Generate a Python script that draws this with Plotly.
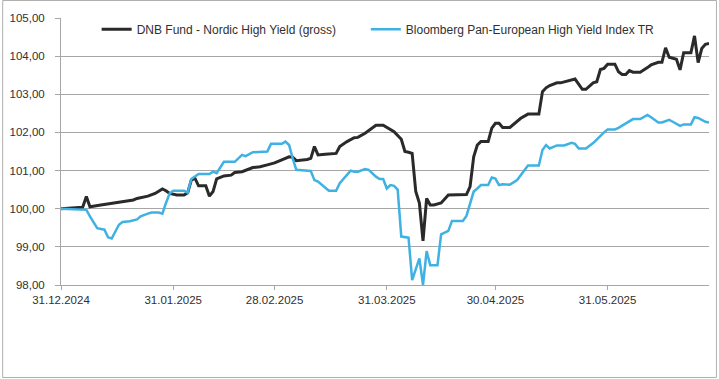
import plotly.graph_objects as go

fund_dates = [
    "2024-12-31", "2025-01-04", "2025-01-06", "2025-01-07", "2025-01-08", "2025-01-11", "2025-01-13",
    "2025-01-15", "2025-01-17", "2025-01-20", "2025-01-21", "2025-01-24", "2025-01-26", "2025-01-28",
    "2025-01-29", "2025-01-30", "2025-02-01", "2025-02-03", "2025-02-04", "2025-02-05", "2025-02-06",
    "2025-02-07", "2025-02-09", "2025-02-10", "2025-02-11", "2025-02-12", "2025-02-14", "2025-02-16",
    "2025-02-17", "2025-02-19", "2025-02-22", "2025-02-24", "2025-02-26", "2025-02-28", "2025-03-02",
    "2025-03-04", "2025-03-05", "2025-03-06", "2025-03-09", "2025-03-10", "2025-03-11", "2025-03-12",
    "2025-03-14", "2025-03-17", "2025-03-18", "2025-03-20", "2025-03-22", "2025-03-23", "2025-03-25",
    "2025-03-27", "2025-03-28", "2025-03-30", "2025-04-01", "2025-04-02", "2025-04-04", "2025-04-05",
    "2025-04-06", "2025-04-07", "2025-04-08", "2025-04-09", "2025-04-10", "2025-04-11", "2025-04-12",
    "2025-04-13", "2025-04-15", "2025-04-17", "2025-04-22", "2025-04-23", "2025-04-24", "2025-04-25",
    "2025-04-26", "2025-04-28", "2025-04-29", "2025-04-30", "2025-05-01", "2025-05-02", "2025-05-04",
    "2025-05-06", "2025-05-07", "2025-05-09", "2025-05-12", "2025-05-13", "2025-05-14", "2025-05-15",
    "2025-05-17", "2025-05-18", "2025-05-20", "2025-05-22", "2025-05-24", "2025-05-25", "2025-05-27",
    "2025-05-28", "2025-05-29", "2025-05-30", "2025-05-31", "2025-06-02", "2025-06-03", "2025-06-04",
    "2025-06-05", "2025-06-06", "2025-06-07", "2025-06-09", "2025-06-11", "2025-06-12", "2025-06-14",
    "2025-06-15", "2025-06-16", "2025-06-17", "2025-06-19", "2025-06-20", "2025-06-21", "2025-06-23",
    "2025-06-24", "2025-06-25", "2025-06-26", "2025-06-27", "2025-06-28",
]
fund_values = [
    100.00, 100.02, 100.04, 100.32, 100.05, 100.10, 100.13,
    100.17, 100.20, 100.23, 100.27, 100.33, 100.40, 100.52,
    100.47, 100.40, 100.36, 100.36, 100.42, 100.75, 100.80,
    100.60, 100.60, 100.33, 100.45, 100.78, 100.86, 100.88,
    100.95, 100.97, 101.08, 101.10, 101.15, 101.20, 101.28,
    101.36, 101.35, 101.26, 101.29, 101.32, 101.63, 101.41,
    101.43, 101.45, 101.63, 101.76, 101.86, 101.87, 101.98,
    102.11, 102.19, 102.19, 102.08, 102.02, 101.82, 101.50,
    101.48, 101.45, 100.45, 100.15, 99.16, 100.27, 100.10,
    100.10, 100.15, 100.36, 100.37, 100.58, 101.36, 101.67,
    101.76, 101.76, 102.11, 102.24, 102.24, 102.13, 102.13,
    102.28, 102.37, 102.48, 102.48, 103.07, 103.17, 103.23,
    103.30, 103.30, 103.36, 103.40, 103.13, 103.13, 103.30,
    103.33, 103.65, 103.68, 103.79, 103.79, 103.59, 103.52,
    103.52, 103.62, 103.58, 103.58, 103.70, 103.77, 103.84,
    103.84, 104.22, 103.97, 103.92, 103.64, 104.09, 104.09,
    104.53, 103.83, 104.20, 104.31, 104.33,
]

index_dates = [
    "2024-12-31", "2025-01-03", "2025-01-07", "2025-01-08", "2025-01-10", "2025-01-12", "2025-01-13",
    "2025-01-14", "2025-01-15", "2025-01-16", "2025-01-17", "2025-01-19", "2025-01-21", "2025-01-22",
    "2025-01-24", "2025-01-25", "2025-01-27", "2025-01-28", "2025-01-29", "2025-01-30", "2025-01-31",
    "2025-02-03", "2025-02-04", "2025-02-05", "2025-02-07", "2025-02-10", "2025-02-11", "2025-02-12",
    "2025-02-14", "2025-02-17", "2025-02-19", "2025-02-20", "2025-02-22", "2025-02-26", "2025-02-27",
    "2025-03-02", "2025-03-03", "2025-03-04", "2025-03-05", "2025-03-06", "2025-03-10", "2025-03-11",
    "2025-03-12", "2025-03-15", "2025-03-17", "2025-03-18", "2025-03-21", "2025-03-22", "2025-03-23",
    "2025-03-25", "2025-03-26", "2025-03-28", "2025-03-29", "2025-03-30", "2025-03-31", "2025-04-01",
    "2025-04-02", "2025-04-03", "2025-04-04", "2025-04-05", "2025-04-06", "2025-04-07", "2025-04-09",
    "2025-04-10", "2025-04-11", "2025-04-12", "2025-04-14", "2025-04-15", "2025-04-17", "2025-04-18",
    "2025-04-21", "2025-04-22", "2025-04-24", "2025-04-25", "2025-04-26", "2025-04-28", "2025-04-29",
    "2025-04-30", "2025-05-01", "2025-05-02", "2025-05-04", "2025-05-06", "2025-05-07", "2025-05-09",
    "2025-05-12", "2025-05-13", "2025-05-14", "2025-05-15", "2025-05-17", "2025-05-19", "2025-05-21",
    "2025-05-22", "2025-05-23", "2025-05-25", "2025-05-27", "2025-05-28", "2025-05-30", "2025-05-31",
    "2025-06-02", "2025-06-03", "2025-06-05", "2025-06-07", "2025-06-09", "2025-06-10", "2025-06-11",
    "2025-06-12", "2025-06-14", "2025-06-15", "2025-06-17", "2025-06-18", "2025-06-20", "2025-06-21",
    "2025-06-23", "2025-06-24", "2025-06-25", "2025-06-27", "2025-06-28",
]
index_values = [
    100.00, 99.98, 99.97, 99.80, 99.49, 99.45, 99.25,
    99.22, 99.40, 99.58, 99.65, 99.67, 99.72, 99.80,
    99.87, 99.90, 99.90, 99.87, 100.15, 100.40, 100.47,
    100.47, 100.42, 100.78, 100.91, 100.91, 100.97, 100.93,
    101.23, 101.23, 101.41, 101.38, 101.48, 101.50, 101.70,
    101.70, 101.76, 101.67, 101.32, 101.02, 100.99, 100.75,
    100.71, 100.47, 100.47, 100.67, 101.00, 100.97, 100.97,
    101.04, 101.02, 100.84, 100.78, 100.78, 100.53, 100.62,
    100.60, 100.50, 99.27, 99.25, 99.24, 98.13, 98.70,
    98.00, 98.89, 98.52, 98.52, 99.33, 99.42, 99.68,
    99.68, 99.81, 100.45, 100.53, 100.62, 100.62, 100.82,
    100.79, 100.62, 100.64, 100.63, 100.75, 100.88, 101.13,
    101.13, 101.54, 101.67, 101.58, 101.66, 101.66, 101.73,
    101.70, 101.58, 101.58, 101.72, 101.82, 102.00, 102.08,
    102.08, 102.12, 102.24, 102.35, 102.35, 102.41, 102.46,
    102.40, 102.26, 102.26, 102.33, 102.28, 102.17, 102.21,
    102.21, 102.40, 102.38, 102.28, 102.26,
]

fund_name = "DNB Fund - Nordic High Yield (gross)"
index_name = "Bloomberg Pan-European High Yield Index TR"

tick_dates = ["2024-12-31", "2025-01-31", "2025-02-28", "2025-03-31", "2025-04-30", "2025-05-31"]
tick_labels = ["31.12.2024", "31.01.2025", "28.02.2025", "31.03.2025", "30.04.2025", "31.05.2025"]

FONT = "Liberation Sans, Arial, sans-serif"
GRID = "#a6a6a6"
TXT = "#303030"

fig = go.Figure()
fig.add_trace(go.Scatter(x=fund_dates, y=fund_values, mode="lines", name=fund_name,
                         line=dict(color="#2a2a2a", width=3), legend="legend"))
fig.add_trace(go.Scatter(x=index_dates, y=index_values, mode="lines", name=index_name,
                         line=dict(color="#3fb1e3", width=2.5), legend="legend2"))

legend_style = dict(orientation="h", y=1.012, xanchor="left", yanchor="top",
                    bgcolor="rgba(0,0,0,0)", font=dict(size=12, color=TXT), itemwidth=30)

fig.update_layout(
    width=719, height=379,
    margin=dict(l=59, r=10, t=18, b=94),
    paper_bgcolor="white", plot_bgcolor="white",
    separators=",.",
    font=dict(family=FONT, size=11.5, color=TXT),
    showlegend=True,
    legend=dict(x=0.055, **legend_style),
    legend2=dict(x=0.4704, **legend_style),
    xaxis=dict(type="date", range=["2024-12-31", "2025-06-28"],
               tickvals=tick_dates, ticktext=tick_labels,
               showgrid=False, showline=True, linecolor=GRID, linewidth=1,
               ticks="outside", ticklen=4, tickcolor=GRID,
               tickfont=dict(size=11.5, color=TXT), zeroline=False),
    yaxis=dict(range=[98, 105], dtick=1, tick0=98, tickformat=".2f",
               showgrid=True, gridcolor=GRID, gridwidth=1,
               showline=True, linecolor=GRID, linewidth=1,
               ticks="outside", ticklen=5, tickcolor=GRID, ticklabelstandoff=8,
               tickfont=dict(size=11.5, color=TXT), zeroline=False),
    shapes=[dict(type="rect", xref="paper", yref="paper",
                 x0=-0.0900, x1=1.0115, y0=-0.3464, y1=1.0655,
                 line=dict(color="#b0b0b0", width=1), fillcolor="rgba(0,0,0,0)", layer="below")],
)

fig.write_html("out.html", config={"displayModeBar": False},
               post_script="document.body.style.margin='0';")
